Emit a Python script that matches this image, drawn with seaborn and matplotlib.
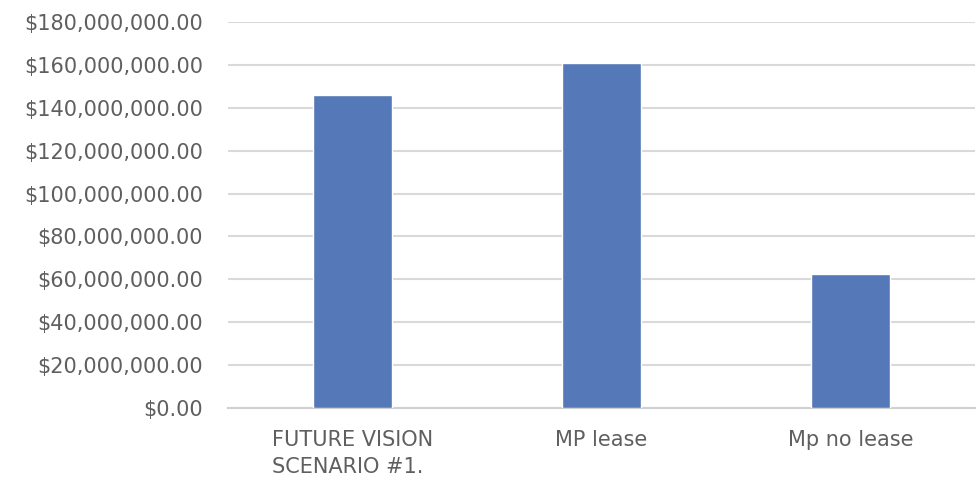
import matplotlib
matplotlib.use("Agg")
import matplotlib.pyplot as plt
import seaborn as sns
import pandas as pd
from matplotlib.ticker import FuncFormatter, MultipleLocator

categories = ["FUTURE VISION\nSCENARIO #1.", "MP lease", "Mp no lease"]
values = [145900000, 160700000, 62500000]

df = pd.DataFrame({"category": categories, "value": values})

sns.set_theme(style="white")
plt.rcParams["font.family"] = ["DejaVu Sans"]

fig = plt.figure(figsize=(9.76, 4.84), dpi=100)
ax = fig.add_axes([228/976, 1-408/484, (975-228)/976, (408-22)/484])

sns.barplot(data=df, x="category", y="value", color="#5578b8", width=0.32,
            saturation=1, ax=ax, zorder=3)

ax.set_ylim(0, 180000000)
ax.set_xlim(-0.5, 2.5)
ax.yaxis.set_major_locator(MultipleLocator(20000000))
ax.yaxis.set_major_formatter(FuncFormatter(lambda v, p: f"${v:,.2f}"))
ax.grid(axis="y", color="#d9d9d9", linewidth=1.5, zorder=0)
ax.set_axisbelow(True)
for s in ["top", "right", "left"]:
    ax.spines[s].set_visible(False)
ax.spines["bottom"].set_color("#d0d0d0")
ax.spines["bottom"].set_linewidth(1.5)
ax.set_xlabel("")
ax.set_ylabel("")
ax.tick_params(axis="both", length=0, labelsize=15, labelcolor="#5f5f5f")
ax.tick_params(axis="y", pad=18)
ax.tick_params(axis="x", pad=16)
for lbl in ax.get_xticklabels():
    lbl.set_multialignment("left")
    lbl.set_linespacing(1.4)

fig.savefig("out.png", dpi=100)
